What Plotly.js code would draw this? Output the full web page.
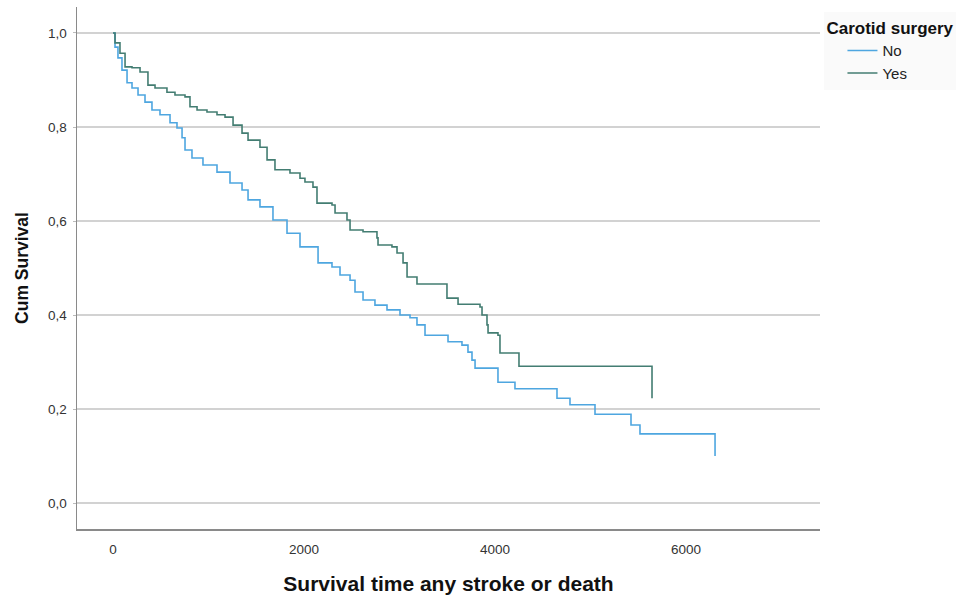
<!DOCTYPE html>
<html>
<head>
<meta charset="utf-8">
<script src="https://cdn.plot.ly/plotly-3.0.1.min.js"></script>
<style>html,body{margin:0;padding:0;background:#fff}#chart{width:966px;height:600px}</style>
</head>
<body>
<div id="chart"></div>
<script>
// Kaplan-Meier style step data
const noTime = [0,21,52,94,147,199,262,335,408,492,597,670,723,754,827,942,1089,1225,1351,1414,1539,1675,1822,1958,2147,2293,2377,2482,2534,2618,2743,2869,3005,3110,3183,3267,3508,3654,3717,3759,3791,4031,4209,4649,4785,5047,5424,5518,6304];
const noSurv = [1.0,0.970,0.947,0.921,0.894,0.883,0.868,0.853,0.836,0.826,0.809,0.798,0.777,0.751,0.734,0.719,0.704,0.681,0.666,0.645,0.630,0.602,0.574,0.545,0.511,0.502,0.485,0.474,0.449,0.432,0.421,0.411,0.400,0.394,0.379,0.357,0.343,0.336,0.321,0.304,0.287,0.257,0.243,0.223,0.209,0.189,0.166,0.147,0.100];

const yesTime = [0,21,73,126,199,283,366,440,565,649,754,806,880,984,1089,1173,1257,1351,1414,1539,1613,1696,1853,1958,2010,2094,2136,2293,2325,2450,2482,2618,2764,2775,2921,2974,3037,3079,3183,3497,3613,3843,3864,3916,3927,4031,4052,4251,5644];
const yesSurv = [1.0,0.979,0.957,0.928,0.926,0.917,0.889,0.883,0.874,0.868,0.864,0.843,0.836,0.832,0.826,0.821,0.804,0.787,0.772,0.757,0.730,0.709,0.702,0.691,0.683,0.672,0.638,0.634,0.617,0.602,0.581,0.577,0.564,0.549,0.545,0.532,0.511,0.481,0.466,0.436,0.423,0.417,0.400,0.379,0.362,0.357,0.319,0.291,0.223];

const groupNames = ['No', 'Yes'];
const yTickVals = [0, 0.2, 0.4, 0.6, 0.8, 1.0];
const yTickText = ['0,0', '0,2', '0,4', '0,6', '0,8', '1,0'];
const xTickVals = [0, 2000, 4000, 6000];
const xTickText = ['0', '2000', '4000', '6000'];

const FONT = 'Liberation Sans, Arial, Helvetica, sans-serif';

const traces = [
  {x: noTime, y: noSurv, name: groupNames[0], type: 'scatter', mode: 'lines',
   line: {shape: 'hv', color: '#4ea6e0', width: 1.6}},
  {x: yesTime, y: yesSurv, name: groupNames[1], type: 'scatter', mode: 'lines',
   line: {shape: 'hv', color: '#437d72', width: 1.6}}
];

const layout = {
  width: 966, height: 600,
  margin: {l: 77, r: 146, t: 7, b: 71},
  paper_bgcolor: '#ffffff', plot_bgcolor: '#ffffff',
  font: {family: FONT, color: '#222'},
  showlegend: true,
  legend: {
    x: 1.006, xanchor: 'left', y: 0.99, yanchor: 'top',
    bgcolor: '#fafafa',
    title: {text: '<b>Carotid surgery</b>', font: {family: FONT, size: 17, color: '#111'}, side: 'top'},
    font: {family: FONT, size: 15, color: '#222'},
    indentation: 18,
    tracegroupgap: 0
  },
  xaxis: {
    range: [-377, 7403],
    tickvals: xTickVals, ticktext: xTickText,
    tickfont: {family: FONT, size: 13.5, color: '#333'},
    showgrid: false, zeroline: false,
    showline: true, linecolor: '#8a8a8a', linewidth: 1.5,
    ticks: '', ticklabelstandoff: 7,
    title: {text: '<b>Survival time any stroke or death</b>', font: {family: FONT, size: 21, color: '#111'}, standoff: 20}
  },
  yaxis: {
    range: [-0.0553, 1.0553],
    tickvals: yTickVals, ticktext: yTickText,
    tickfont: {family: FONT, size: 13.5, color: '#333'},
    showgrid: true, gridcolor: '#d2d2d2', gridwidth: 1.5,
    zeroline: false,
    showline: true, linecolor: '#8a8a8a', linewidth: 1.5,
    ticks: 'outside', ticklen: 3, tickcolor: '#bbbbbb',
    ticklabelstandoff: 3,
    title: {text: '<b>Cum Survival</b>', font: {family: FONT, size: 17.5, color: '#111'}, standoff: 15}
  }
};

Plotly.newPlot('chart', traces, layout, {displayModeBar: false, staticPlot: true});
</script>
</body>
</html>
